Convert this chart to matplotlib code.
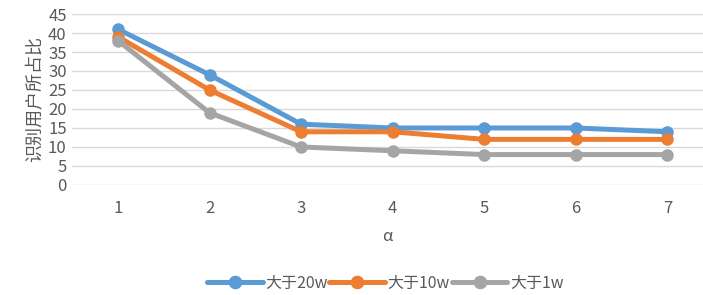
import matplotlib
matplotlib.use('Agg')
import matplotlib.pyplot as plt

plt.rcParams['font.family'] = ['Noto Sans CJK SC', 'DejaVu Sans']
plt.rcParams['font.weight'] = 'light'

alpha = [1, 2, 3, 4, 5, 6, 7]
over_20w = [41, 29, 16, 15, 15, 15, 14]
over_10w = [39, 25, 14, 14, 12, 12, 12]
over_1w = [38, 19, 10, 9, 8, 8, 8]
labels = ['大于20w', '大于10w', '大于1w']
colors = ['#5B9BD5', '#ED7D31', '#A5A5A5']

fig = plt.figure(figsize=(7.03, 2.95), dpi=100)
ax = fig.add_axes([0.1027, 0.373, 0.8973, 0.5795])

for ys, lab, col in zip([over_20w, over_10w, over_1w], labels, colors):
    ax.plot(alpha, ys, color=col, lw=3.6, marker='o', ms=8, label=lab,
            solid_capstyle='round')

ax.set_xlim(0.5, 7.39)
ax.set_ylim(0, 45)
ax.set_yticks(range(0, 46, 5))
ax.set_xticks(alpha)
ax.grid(axis='y', color='#D9D9D9', lw=1)
ax.set_axisbelow(True)
for s in ax.spines.values():
    s.set_visible(False)
ax.tick_params(length=0, colors='#595959', labelsize=12, pad=4)
ax.tick_params(axis='x', pad=11)

ax.set_ylabel('识别用户所占比', color='#595959', fontsize=13, labelpad=3)
ax.set_xlabel('α', color='#595959', fontsize=12, labelpad=8)

fig.legend(loc='center', bbox_to_anchor=(0.548, 0.04), ncol=3, frameon=False,
           fontsize=11.5, labelcolor='#595959', handlelength=3.5,
           columnspacing=0.1, handletextpad=0.15, borderaxespad=0,
           markerscale=1.1)

fig.savefig('out.png', dpi=100)
